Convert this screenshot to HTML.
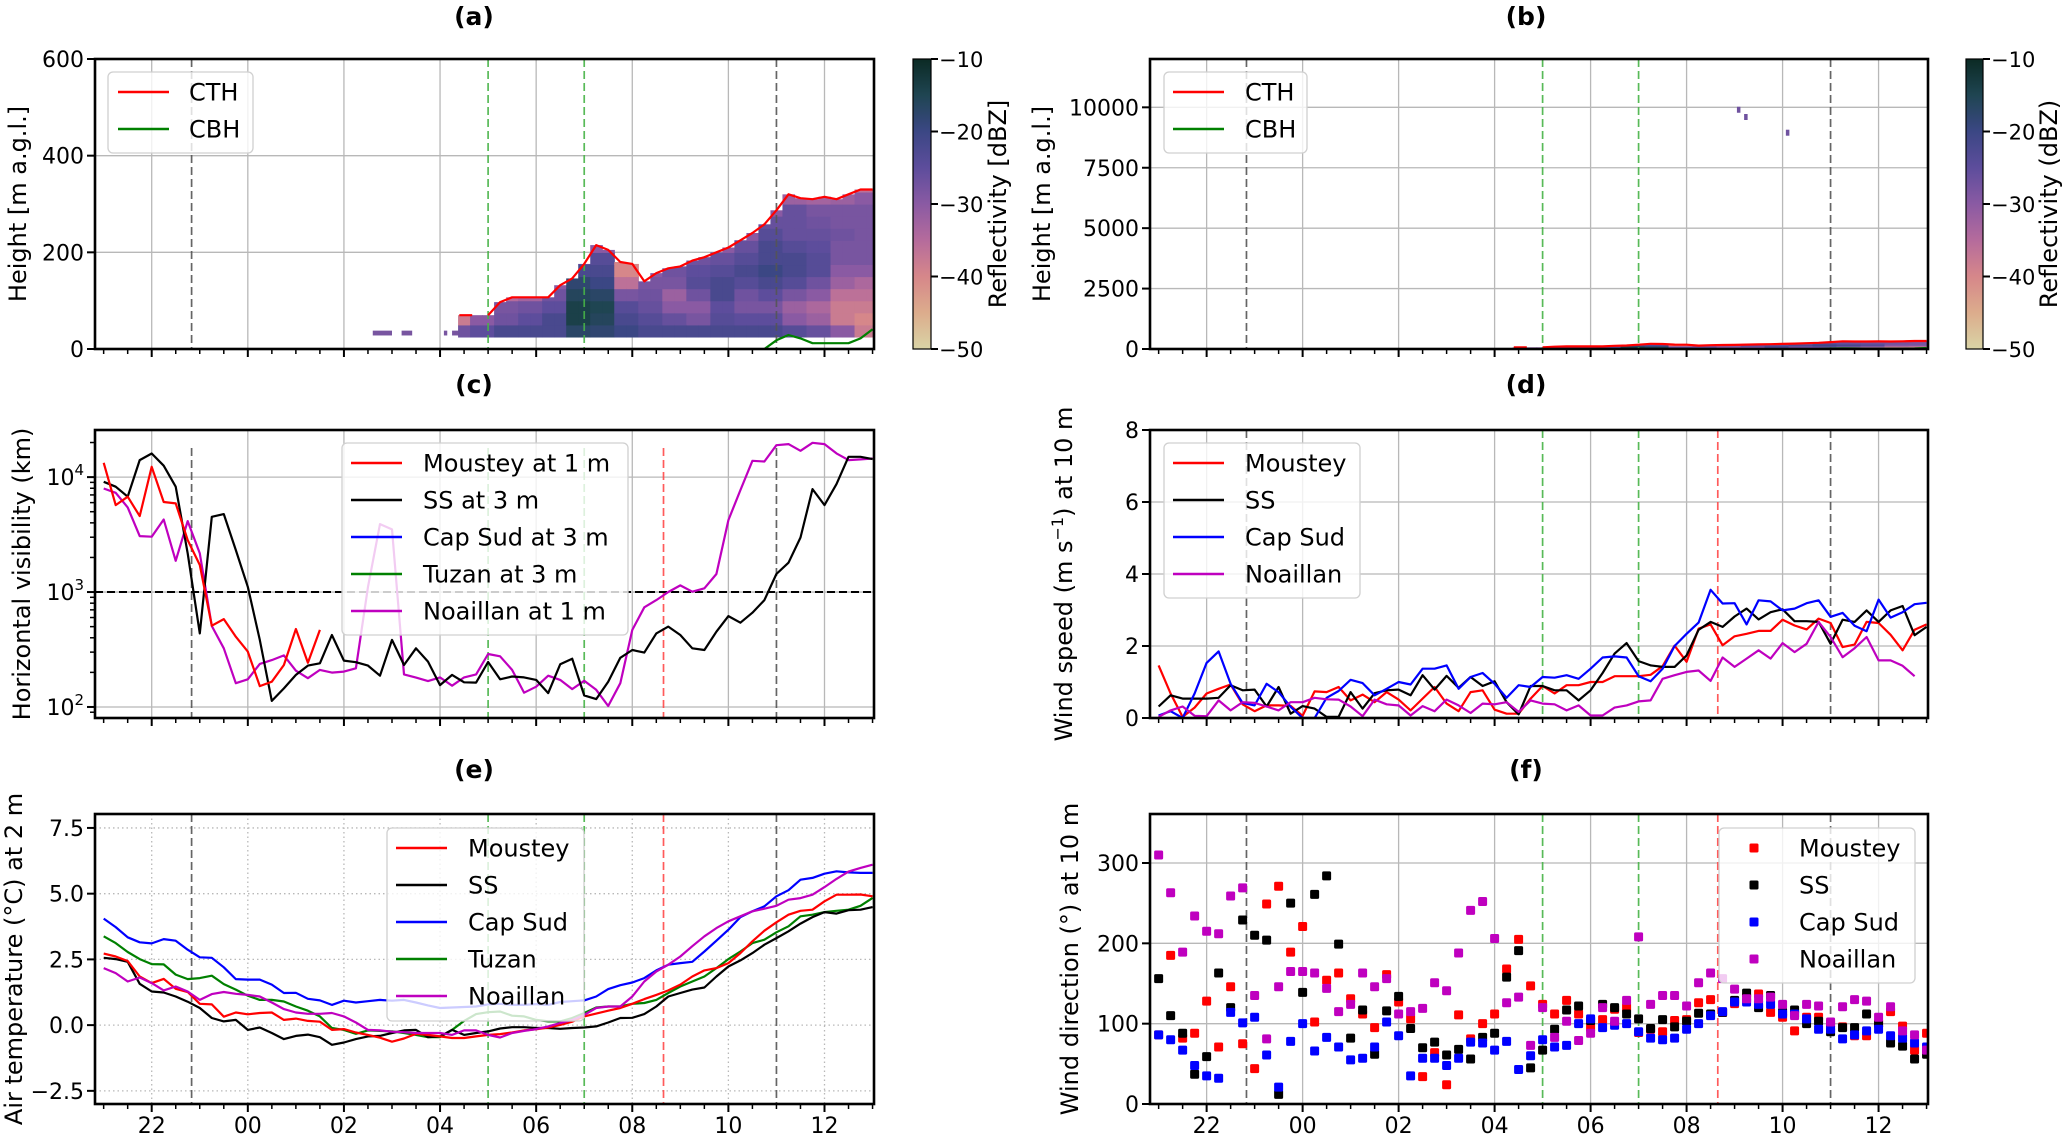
<!DOCTYPE html>
<html><head><meta charset="utf-8">
<style>
html,body{margin:0;padding:0;background:#fff;width:2067px;height:1134px;overflow:hidden}
svg{display:block;font-family:"DejaVu Sans","Liberation Sans",sans-serif}
</style></head>
<body>
<svg id="fig" width="2067" height="1134" viewBox="0 0 2067 1134" xmlns="http://www.w3.org/2000/svg">
<defs>
<linearGradient id="cmap" x1="0" y1="0" x2="0" y2="1">
<stop offset="0" stop-color="#0b2a24"/><stop offset="0.125" stop-color="#1f4552"/><stop offset="0.25" stop-color="#3b4784"/>
<stop offset="0.375" stop-color="#5d4d9c"/><stop offset="0.5" stop-color="#8a5aa3"/><stop offset="0.625" stop-color="#b56b9c"/>
<stop offset="0.75" stop-color="#d6878a"/><stop offset="0.875" stop-color="#dcac8c"/><stop offset="1" stop-color="#d9d4a6"/>
</linearGradient>
</defs>
</svg>
<script>
// ---------- DATA ----------
const seriesStart = 21.0;   // hours (21:00)
const seriesStep = 0.25;    // 15 min

// (c) horizontal visibility (km)
const visMoustey = [13330,5710,6750,4580,12300,6070,5910,2830,1720,510,582,409,303,152,166,232,477,243,468];
const visSS = [9100,8250,6750,14060,16060,12560,8250,2170,437,4520,4770,2320,1110,383,113,145,190,229,240,423,253,245,229,187,383,232,324,248,155,190,164,163,246,174,184,181,172,132,235,263,126,117,166,268,313,297,437,500,423,324,313,452,618,541,661,851,1435,1800,2985,7870,5710,8690,15030,15030,14350];
const visNoaillan = [7960,7310,5450,3070,3030,4280,1870,4140,2170,506,324,161,174,237,256,281,207,178,210,199,203,217,1110,3900,3510,192,180,168,181,153,181,192,289,276,210,133,150,187,172,143,169,141,102,161,468,736,851,1000,1143,1007,1077,1435,4230,7710,13870,13680,18970,19360,16930,19890,19360,16070,14060,14260,14520];

// (d) wind speed (m/s)
const wsMoustey = [1.46,0.68,0.03,0.29,0.68,0.81,0.93,0.38,0.19,0.35,0.35,0.34,0.06,0.74,0.72,0.86,0.49,0.65,0.44,0.72,0.51,0.21,0.54,0.86,0.40,0.19,0.72,0.77,0.23,0.12,0.12,0.54,0.89,0.68,0.91,0.91,1.00,1.00,1.16,1.16,1.16,1.20,1.44,2.01,1.56,2.48,2.60,2.02,2.27,2.34,2.42,2.42,2.73,2.57,2.46,2.76,2.64,1.97,2.04,2.67,2.64,2.31,1.88,2.45,2.60];
const wsSS = [0.32,0.63,0.54,0.54,0.54,0.56,0.91,0.77,0.79,0.32,0.86,0.12,0.33,0.26,0.03,0.03,0.72,0.26,0.69,0.77,0.79,0.63,1.19,0.79,1.17,0.84,1.14,0.89,1.02,0.44,0.10,0.89,0.89,0.77,0.77,0.49,0.77,1.25,1.79,2.08,1.58,1.46,1.42,1.42,1.74,2.45,2.67,2.53,2.82,3.04,2.74,2.94,3.02,2.69,2.69,2.67,2.06,2.73,2.67,2.99,2.67,2.99,3.11,2.30,2.53];
const wsCapSud = [0.07,0.19,0,0.68,1.53,1.85,0.95,0.42,0.35,0.95,0.72,0.31,0,0,0.56,0.75,1.06,0.97,0.63,0.81,1.00,0.93,1.37,1.37,1.46,0.81,1.14,1.25,0.95,0.56,0.91,0.86,1.14,1.12,1.19,1.09,1.37,1.68,1.71,1.68,1.16,1.02,1.37,2.00,2.34,2.65,3.56,3.18,3.19,2.60,3.27,3.24,2.99,3.04,3.19,3.27,2.81,2.92,2.56,2.41,3.29,2.79,2.94,3.16,3.20];
const wsNoaillan = [0.03,0.21,0.32,0.06,0.05,0.49,0.21,0.44,0.42,0.32,0.21,0.44,0.44,0.56,0.52,0.51,0.32,0.05,0.51,0.38,0.35,0.07,0.33,0.19,0.51,0.35,0.14,0.40,0.38,0.44,0.17,0.49,0.40,0.38,0.21,0.35,0.07,0.07,0.29,0.35,0.46,0.49,1.09,1.19,1.28,1.32,1.03,1.68,1.42,1.65,1.88,1.65,2.08,1.83,2.06,2.67,2.25,1.69,1.94,2.25,1.60,1.60,1.45,1.16];

// (e) air temperature (°C)
const taMoustey = [2.72,2.61,2.44,1.85,1.60,1.76,1.38,1.26,0.81,0.79,0.32,0.48,0.41,0.46,0.48,0.20,0.25,0.16,0.13,-0.18,-0.15,-0.28,-0.37,-0.48,-0.63,-0.51,-0.33,-0.37,-0.43,-0.49,-0.49,-0.43,-0.37,-0.34,-0.28,-0.20,-0.16,-0.09,0.01,0.13,0.33,0.44,0.55,0.65,0.81,0.99,1.15,1.32,1.54,1.85,2.08,2.17,2.36,2.74,3.19,3.59,3.91,4.20,4.35,4.39,4.71,4.96,4.96,4.97,4.90];
const taSS = [2.56,2.51,2.41,1.57,1.28,1.24,1.09,0.89,0.65,0.27,0.14,0.20,-0.18,-0.09,-0.30,-0.53,-0.41,-0.36,-0.46,-0.75,-0.66,-0.53,-0.43,-0.41,-0.30,-0.20,-0.18,-0.46,-0.43,-0.18,-0.37,-0.30,-0.24,-0.13,-0.08,-0.08,-0.11,-0.11,-0.14,-0.11,-0.09,-0.05,0.10,0.27,0.28,0.42,0.71,1.09,1.22,1.35,1.43,1.85,2.23,2.46,2.74,3.06,3.31,3.57,3.86,4.11,4.30,4.24,4.37,4.39,4.49];
const taCapSud = [4.05,3.73,3.34,3.15,3.11,3.27,3.21,2.87,2.58,2.56,2.20,1.75,1.73,1.73,1.54,1.22,1.23,1.00,0.94,0.77,0.93,0.86,0.91,0.96,0.93,0.96,0.86,0.75,0.65,0.67,0.69,0.71,0.79,0.81,0.77,0.77,0.80,0.77,0.88,0.91,0.94,1.09,1.37,1.52,1.62,1.79,2.08,2.30,2.36,2.41,2.80,3.21,3.63,4.11,4.33,4.52,4.90,5.13,5.53,5.60,5.76,5.85,5.81,5.79,5.79];
const taTuzan = [3.38,3.12,2.78,2.51,2.32,2.31,1.92,1.75,1.79,1.88,1.56,1.35,1.12,0.96,0.96,0.90,0.71,0.55,0.33,-0.11,-0.18,-0.33,-0.20,-0.22,-0.24,-0.30,-0.37,-0.46,-0.46,-0.18,0.16,0.42,0.49,0.52,0.36,0.33,0.20,0.14,0.14,0.27,0.46,0.67,0.71,0.71,0.81,0.84,0.96,1.22,1.47,1.66,1.85,2.17,2.51,2.80,3.12,3.25,3.53,3.76,4.14,4.20,4.30,4.35,4.39,4.54,4.84];
const taNoaillan = [2.17,1.98,1.66,1.81,1.60,1.32,1.47,1.28,0.96,1.18,1.26,1.19,1.15,1.09,0.86,0.61,0.48,0.43,0.43,0.46,0.33,0.10,-0.18,-0.20,-0.25,-0.27,-0.30,-0.30,-0.30,-0.37,-0.20,-0.20,-0.37,-0.47,-0.30,-0.22,-0.15,-0.05,0.08,0.20,0.39,0.65,0.71,0.71,1.09,1.66,2.04,2.30,2.61,3.00,3.38,3.69,3.95,4.14,4.33,4.43,4.54,4.77,4.83,4.96,5.25,5.56,5.84,5.98,6.10];

// (f) wind direction (deg)
const wdMoustey = [86,185,82,88,128,71,146,75,44,249,271,189,221,102,154,163,131,112,95,161,127,106,34,64,24,111,81,100,112,168,205,147,124,112,129,112,95,105,118,120,89,93,90,104,105,126,130,114,125,133,137,114,108,91,108,108,100,96,85,85,100,115,97,67,88];
const wdSS = [156,110,88,37,59,163,120,229,210,204,12,250,139,261,284,199,82,117,62,116,134,94,70,77,61,68,56,83,88,158,191,45,67,93,117,122,104,124,120,112,106,94,105,96,103,113,112,114,129,138,120,135,114,117,100,103,90,95,95,112,100,76,72,56,62];
const wdCapSud = [86,80,67,48,35,32,114,101,108,61,21,78,100,66,83,71,55,57,71,102,85,35,57,57,48,57,77,76,67,78,43,60,80,71,73,100,106,95,98,100,90,82,80,82,93,100,110,115,127,127,124,124,112,112,106,93,93,81,86,91,93,85,82,76,71];
const wdNoaillan = [310,263,189,234,215,212,259,269,135,81,146,165,165,163,144,115,124,163,146,156,112,115,119,151,141,188,241,252,206,126,133,73,120,83,103,79,88,120,103,129,208,124,135,135,122,151,163,156,143,131,131,133,124,110,124,122,102,121,130,128,108,121,91,86,67];

// (a)/(b) cloud top / base heights (m)
const cthTimes = [28.4,28.67,28.8,29.0,29.25,29.5,29.75,30.0,30.25,30.5,30.75,31.0,31.25,31.5,31.75,32.0,32.25,32.5,32.75,33.0,33.25,33.5,33.75,34.0,34.25,34.5,34.75,35.0,35.25,35.5,35.75,36.0,36.25,36.5,36.75,37.0];
const cthVals = [70,70,null,70,97,107,107,107,107,132,146,176,215,205,180,176,140,157,167,171,183,190,200,210,225,240,258,287,320,312,310,315,310,320,330,330];
const cbhTimes = [34.75,35.0,35.25,35.5,35.75,36.0,36.25,36.5,36.75,37.0];
const cbhVals = [0,18,29,22,12,12,12,12,22,41];

// radar reflectivity (dBZ): columns every 30 min from 04:30, rows every 25 m from 25 m
const hmTimes = [28.5,29.0,29.5,30.0,30.5,31.0,31.5,32.0,32.5,33.0,33.5,34.0,34.5,35.0,35.5,36.0,36.5,37.0];
const hmRowBase = 25, hmRowStep = 25;
const hmRefl = [
 [-27,-38,-40],
 [-25,-30,-30],
 [-22,-27,-28,-35],
 [-22,-25,-27,-33],
 [-22,-22,-25,-27,-30],
 [-17,-14,-14,-16,-18,-22,-25,-28],
 [-18,-16,-15,-17,-20,-22,-24,-30],
 [-20,-22,-24,-28,-36,-40,-40],
 [-22,-24,-26,-27,-28,-30],
 [-22,-26,-30,-32,-28,-27,-30],
 [-22,-28,-30,-27,-24,-25,-27,-32],
 [-22,-24,-25,-22,-22,-24,-26,-30,-34],
 [-22,-25,-28,-27,-24,-22,-24,-26,-30,-36],
 [-22,-25,-28,-25,-22,-20,-22,-22,-24,-26,-30,-36],
 [-24,-30,-32,-28,-24,-22,-22,-24,-26,-26,-26,-32],
 [-26,-32,-34,-30,-27,-24,-24,-25,-26,-27,-28,-33],
 [-30,-38,-38,-36,-32,-30,-28,-28,-27,-28,-28,-32,-36],
 [-38,-40,-38,-36,-34,-30,-28,-28,-28,-28,-28,-30,-36]
];
const lowEchoStart = [26.6,27.2,28.08,28.25];
const lowEchoEnd = [27.0,27.42,28.15,28.6];
const lowEchoLow = 28, lowEchoHigh = 38, lowEchoRefl = -28;
const speckTimes = [33.08,33.23,34.1];
const speckHeights = [9900,9600,8950];
const speckRefl = [-27,-27,-27];

// event lines (hours)
const evGray = [22.83,35.0];
const evGreen = [29.0,31.0];
const evRed = [32.65];

// ticks
const xTickHours = [22,24,26,28,30,32,34,36];
const xTickLabels = ["22","00","02","04","06","08","10","12"];
const aTicks = [0,200,400,600];
const bTicks = [0,2500,5000,7500,10000];
const cTicks = [2,3,4];
const dTicks = [0,2,4,6,8];
const eTicks = [-2.5,0,2.5,5,7.5];
const eTickLabels = ["\u22122.5","0.0","2.5","5.0","7.5"];
const fTicks = [0,100,200,300];
const cbTicks = [-10,-20,-30,-40,-50];

// ---------- RENDER ----------
const NS = "http://www.w3.org/2000/svg";
const svg = document.getElementById("fig");
function mk(tag, attrs, parent){const e=document.createElementNS(NS,tag);for(const k in attrs)e.setAttribute(k,attrs[k]);(parent||svg).appendChild(e);return e;}
const T0 = 20.82, T1 = 37.03;
const P = {
 a:{x0:95,x1:874,y0:59,y1:349,ymin:0,ymax:600},
 b:{x0:1150,x1:1928,y0:59,y1:349,ymin:0,ymax:12000},
 c:{x0:95,x1:874,y0:430,y1:718,ymin:1.904,ymax:4.41,log:true},
 d:{x0:1150,x1:1928,y0:430,y1:718,ymin:0,ymax:8},
 e:{x0:95,x1:874,y0:814,y1:1104,ymin:-3.0,ymax:8.03},
 f:{x0:1150,x1:1928,y0:814,y1:1104,ymin:0,ymax:361}
};
for(const k in P){const p=P[k];
 p.x=t=>p.x0+(t-T0)/(T1-T0)*(p.x1-p.x0);
 p.y=v=>{const u=p.log?Math.log10(v):v;return p.y1-(u-p.ymin)/(p.ymax-p.ymin)*(p.y1-p.y0);};
 const defs=svg.querySelector("defs");
 const cp=mk("clipPath",{id:"clip-"+k},defs);
 mk("rect",{x:p.x0,y:p.y0,width:p.x1-p.x0,height:p.y1-p.y0},cp);
}
const stops=[[-10,[11,42,36]],[-15,[31,69,82]],[-20,[59,71,132]],[-25,[93,77,156]],[-30,[138,90,163]],[-35,[181,107,156]],[-40,[214,135,138]],[-45,[220,172,140]],[-50,[217,212,166]]];
function cmap(v){v=Math.max(-50,Math.min(-10,v));for(let i=0;i<stops.length-1;i++){const a=stops[i],b=stops[i+1];if(v<=a[0]&&v>=b[0]){const f=(a[0]-v)/(a[0]-b[0]);const c=a[1].map((x,j)=>Math.round(x+(b[1][j]-x)*f));return "rgb("+c.join(",")+")";}}return "rgb(217,212,166)";}
function times(n){const t=[];for(let i=0;i<n;i++)t.push(seriesStart+i*seriesStep);return t;}

function drawFrame(k, opts){
 const p=P[k];
 const g=mk("g",{});
 
 
 const dash=opts.dotted?"1.5,3":null;
 for(const h of xTickHours){const x=p.x(h);
  const l=mk("line",{x1:x,x2:x,y1:p.y0,y2:p.y1,stroke:"#b8b8b8","stroke-width":1.3},g);
  if(dash)l.setAttribute("stroke-dasharray",dash);
  
  
 }
 for(const v of opts.gridY){const y=opts.gridMap?opts.gridMap(v):p.y(v);
  const l=mk("line",{x1:p.x0,x2:p.x1,y1:y,y2:y,stroke:"#b8b8b8","stroke-width":1.3},g);
  if(dash)l.setAttribute("stroke-dasharray",dash);
  
  
 }
 return g;
}
function drawSpines(k, opts){
 const p=P[k];
 const g=mk("g",{});
 
 
 for(let h=21;h<=37;h+=0.5){const x=p.x(h);const major=xTickHours.indexOf(h)>=0;
  const l=mk("line",{x1:x,x2:x,y1:p.y1,y2:p.y1+(major?8:5),stroke:"#000","stroke-width":major?2:1.5},g);
  
  
 }
 if(opts.xlabels){xTickHours.forEach((h,i)=>{
  const t=mk("text",{x:p.x(h),y:p.y1+29,"font-size":22,"text-anchor":"middle"},g);
  t.textContent=xTickLabels[i];
  
  
 });}
 opts.ticks.forEach((v,i)=>{const y=opts.tickMap?opts.tickMap(v):p.y(v);
  const l=mk("line",{x1:p.x0-8,x2:p.x0,y1:y,y2:y,stroke:"#000","stroke-width":2},g);
  
  
  const t=mk("text",{x:p.x0-11,y:y+8,"font-size":22,"text-anchor":"end"},g);
  
  
  if(opts.logLabels){t.textContent="10";const s=mk("tspan",{dy:-10,"font-size":15},t);s.textContent=String(v);}
  else t.textContent=opts.labels?opts.labels[i]:String(v);
 });
 if(opts.minorY){for(const v of opts.minorY){const y=p.y(v);if(y<p.y0||y>p.y1)continue;
  const l=mk("line",{x1:p.x0-5,x2:p.x0,y1:y,y2:y,stroke:"#000","stroke-width":1.5},g);
  
  
 }}
 const r=mk("rect",{x:p.x0,y:p.y0,width:p.x1-p.x0,height:p.y1-p.y0,fill:"none",stroke:"#000","stroke-width":2.6},g);
 
 
 const yl=mk("text",{x:opts.ylabX,y:(p.y0+p.y1)/2,"font-size":24,"text-anchor":"middle",transform:"rotate(-90 "+opts.ylabX+" "+((p.y0+p.y1)/2)+")"},g);
 
 
 if(opts.ylabParts){opts.ylabParts.forEach(pt=>{const s=mk("tspan",pt.sup?{"font-size":16,dy:-9}:(pt.down?{dy:9}:{}),yl);s.textContent=pt.t;});}
 else yl.textContent=opts.ylab;
 const ti=mk("text",{x:opts.titleX,y:opts.titleY,"font-size":25,"font-weight":"bold","text-anchor":"middle"},g);
 ti.textContent="("+k+")";
 
 
}
function drawEvents(k, withRed, topY){
 const p=P[k];
 const g=mk("g",{"clip-path":"url(#clip-"+k+")"});
 
 
 const y0=topY||p.y0;
 const sets=[[evGray,"#555","event-gray-line"],[evGreen,"#47b347","event-green-line"]];
 if(withRed)sets.push([evRed,"#ff4a4a","event-red-line"]);
 for(const [arr,col,nm] of sets){for(const t of arr){const x=p.x(t);
  const l=mk("line",{x1:x,x2:x,y1:y0,y2:p.y1,stroke:col,"stroke-width":1.7,"stroke-dasharray":"8,4",opacity:0.9},g);
  
  
 }}
}
function drawLine(k, ts, vals, color, name){
 const p=P[k];let d="",pen=false;
 vals.forEach((v,i)=>{if(v===null||v===undefined){pen=false;return;}
  d+=(pen?"L":"M")+p.x(ts[i]).toFixed(1)+","+p.y(v).toFixed(1);pen=true;});
 const e=mk("path",{d:d,fill:"none",stroke:color,"stroke-width":2.2,"stroke-linejoin":"round","clip-path":"url(#clip-"+k+")"});
 
 
 return e;
}
function drawScatter(k, vals, color, name){
 const p=P[k];const ts=times(vals.length);
 const g=mk("g",{"clip-path":"url(#clip-"+k+")"});
 
 
 vals.forEach((v,i)=>{const r=mk("rect",{x:p.x(ts[i])-4.5,y:p.y(v)-4.5,width:9,height:9,rx:1.5,fill:color},g);
  
  
 });
}
function drawLegend(x,y,w,h,entries,opts){
 const g=mk("g",{});
 
 
 const r=mk("rect",{x:x,y:y,width:w,height:h,rx:5,fill:"#fff","fill-opacity":0.8,stroke:"#d0d0d0","stroke-width":1.3},g);
 
 
 entries.forEach((en,i)=>{const cy=opts.firstY+i*opts.step;
  if(opts.marker){const m=mk("rect",{x:opts.lx-4.5,y:cy-4.5,width:9,height:9,rx:1.5,fill:en[1]},g);
   
   }
  else{const l=mk("line",{x1:opts.lx,x2:opts.lx+51,y1:cy,y2:cy,stroke:en[1],"stroke-width":2.4},g);
   
   }
  const t=mk("text",{x:opts.tx,y:cy+8.5,"font-size":24},g);
  t.textContent=en[0];
  
  
 });
}
function drawColorbar(x,w,y0,y1,label,labX){
 const g=mk("g",{});
 
 
 const r=mk("rect",{x:x,y:y0,width:w,height:y1-y0,fill:"url(#cmap)",stroke:"#000","stroke-width":1.2},g);
 
 
 cbTicks.forEach(v=>{const y=y0+(-10-v)/40*(y1-y0);
  const l=mk("line",{x1:x+w,x2:x+w+7,y1:y,y2:y,stroke:"#000","stroke-width":2},g);
  
  
  const t=mk("text",{x:x+w+8,y:y+8,"font-size":21},g);
  t.textContent="\u2212"+Math.abs(v);
  
  
 });
 const yc=(y0+y1)/2;
 const t=mk("text",{x:labX,y:yc,"font-size":24,"text-anchor":"middle",transform:"rotate(-90 "+labX+" "+yc+")"},g);
 t.textContent=label;
 
 
}
function cthAt(t){for(let i=0;i<cthTimes.length-1;i++){const a=cthTimes[i],b=cthTimes[i+1];if(t>=a&&t<=b){const va=cthVals[i],vb=cthVals[i+1];if(va===null)return vb;if(vb===null)return va;return va+(vb-va)*(t-a)/(b-a);}}return cthVals[cthVals.length-1];}
function drawRadar(k){
 const p=P[k];
 const g=mk("g",{"clip-path":"url(#clip-"+k+")"});
 
 
 lowEchoStart.forEach((s,i)=>{const x0=p.x(s),x1=p.x(lowEchoEnd[i]);
  const r=mk("rect",{x:x0,y:p.y(lowEchoHigh),width:Math.max(2,x1-x0),height:Math.max(1.5,p.y(lowEchoLow)-p.y(lowEchoHigh)),fill:cmap(lowEchoRefl)},g);
  
  
 });
 for(let t=hmTimes[0]-0.125;t<hmTimes[hmTimes.length-1]+0.2;t+=0.25){
  const tc=t+0.125;const ci=Math.max(0,Math.min(hmTimes.length-1,Math.round((tc-hmTimes[0])/0.5)));
  const col=hmRefl[ci];const top=cthAt(Math.min(tc,37));
  col.forEach((v,r)=>{const lo=hmRowBase+r*hmRowStep;if(lo>=top)return;const hi=Math.min(lo+hmRowStep,top);
   const x0=p.x(t),x1=p.x(t+0.25);
   const c=mk("rect",{x:x0,y:p.y(hi),width:x1-x0+0.6,height:p.y(lo)-p.y(hi)+0.6,fill:cmap(v)},g);
   
   
  });
 }
 if(k==="b"){speckTimes.forEach((t,i)=>{const r=mk("rect",{x:p.x(t)-1.5,y:p.y(speckHeights[i])-3,width:3.5,height:6,fill:cmap(speckRefl[i])},g);
  
  });}
}

// ----- panel a -----
drawFrame("a",{gridY:[200,400]});
drawRadar("a");
drawEvents("a",false);
drawLine("a",cthTimes,cthVals,"#ff0000","cth-line");
drawLine("a",cbhTimes,cbhVals,"#008000","cbh-line");
drawSpines("a",{ticks:aTicks,ylab:"Height [m a.g.l.]",ylabX:26,titleX:474,titleY:25});
drawLegend(108,72,145,81,[["CTH","#ff0000"],["CBH","#008000"]],{lx:118,tx:189,firstY:92,step:37});
drawColorbar(913,18,59,349,"Reflectivity [dBZ]",1006);

// ----- panel b -----
drawFrame("b",{gridY:[2500,5000,7500,10000]});
drawRadar("b");
drawEvents("b",false);
drawLine("b",cthTimes,cthVals,"#ff0000","cth-line");
drawLine("b",cbhTimes,cbhVals,"#008000","cbh-line");
drawSpines("b",{ticks:bTicks,ylab:"Height [m a.g.l.]",ylabX:1050,titleX:1526,titleY:25});
drawLegend(1164,72,143,81,[["CTH","#ff0000"],["CBH","#008000"]],{lx:1173,tx:1245,firstY:92,step:37});
drawColorbar(1966,17,59,349,"Reflectivity (dBZ)",2057);

// ----- panel c -----
const cMinor=[];for(let d=1;d<=4;d++)for(let m=2;m<=9;m++)cMinor.push(m*Math.pow(10,d));
drawFrame("c",{gridY:cTicks,gridMap:v=>P.c.y(Math.pow(10,v))});
drawEvents("c",true,448);
{const p=P.c;const l=mk("line",{x1:p.x0,x2:p.x1,y1:p.y(1000),y2:p.y(1000),stroke:"#000","stroke-width":2,"stroke-dasharray":"8,4"});
 
 }
drawLine("c",times(visNoaillan.length),visNoaillan,"#bf00bf","vis-noaillan-line");
drawLine("c",times(visSS.length),visSS,"#000000","vis-ss-line");
drawLine("c",times(visMoustey.length),visMoustey,"#ff0000","vis-moustey-line");
drawSpines("c",{ticks:cTicks,tickMap:v=>P.c.y(Math.pow(10,v)),logLabels:true,minorY:cMinor,ylab:"Horizontal visibility (km)",ylabX:30,titleX:474,titleY:393});
drawLegend(342,443,286,192,[["Moustey at 1 m","#ff0000"],["SS at 3 m","#000000"],["Cap Sud at 3 m","#0000ff"],["Tuzan at 3 m","#008000"],["Noaillan at 1 m","#bf00bf"]],{lx:351,tx:423,firstY:463,step:37});

// ----- panel d -----
drawFrame("d",{gridY:[2,4,6]});
drawEvents("d",true);
drawLine("d",times(wsMoustey.length),wsMoustey,"#ff0000","ws-moustey-line");
drawLine("d",times(wsSS.length),wsSS,"#000000","ws-ss-line");
drawLine("d",times(wsCapSud.length),wsCapSud,"#0000ff","ws-capsud-line");
drawLine("d",times(wsNoaillan.length),wsNoaillan,"#bf00bf","ws-noaillan-line");
drawSpines("d",{ticks:dTicks,ylabParts:[{t:"Wind speed (m s"},{t:"\u22121",sup:true},{t:") at 10 m",down:true}],ylabX:1072,titleX:1526,titleY:393});
drawLegend(1164,443,196,155,[["Moustey","#ff0000"],["SS","#000000"],["Cap Sud","#0000ff"],["Noaillan","#bf00bf"]],{lx:1173,tx:1245,firstY:463,step:37});

// ----- panel e -----
drawFrame("e",{gridY:eTicks,dotted:true});
drawEvents("e",true);
drawLine("e",times(taCapSud.length),taCapSud,"#0000ff","ta-capsud-line");
drawLine("e",times(taTuzan.length),taTuzan,"#008000","ta-tuzan-line");
drawLine("e",times(taSS.length),taSS,"#000000","ta-ss-line");
drawLine("e",times(taMoustey.length),taMoustey,"#ff0000","ta-moustey-line");
drawLine("e",times(taNoaillan.length),taNoaillan,"#bf00bf","ta-noaillan-line");
drawSpines("e",{ticks:eTicks,labels:eTickLabels,xlabels:true,ylab:"Air temperature (\u00b0C) at 2 m",ylabX:22,titleX:474,titleY:778});
drawLegend(387,828,197,193,[["Moustey","#ff0000"],["SS","#000000"],["Cap Sud","#0000ff"],["Tuzan","#008000"],["Noaillan","#bf00bf"]],{lx:396,tx:468,firstY:848,step:37});

// ----- panel f -----
drawFrame("f",{gridY:[100,200,300]});
drawEvents("f",true);
drawScatter("f",wdMoustey,"#ff0000","wd-moustey-points");
drawScatter("f",wdSS,"#000000","wd-ss-points");
drawScatter("f",wdCapSud,"#0000ff","wd-capsud-points");
drawScatter("f",wdNoaillan,"#bf00bf","wd-noaillan-points");
drawSpines("f",{ticks:fTicks,xlabels:true,ylab:"Wind direction (\u00b0) at 10 m",ylabX:1078,titleX:1526,titleY:778});
drawLegend(1719,828,196,155,[["Moustey","#ff0000"],["SS","#000000"],["Cap Sud","#0000ff"],["Noaillan","#bf00bf"]],{marker:true,lx:1754,tx:1799,firstY:848,step:37});
</script>
</body></html>
